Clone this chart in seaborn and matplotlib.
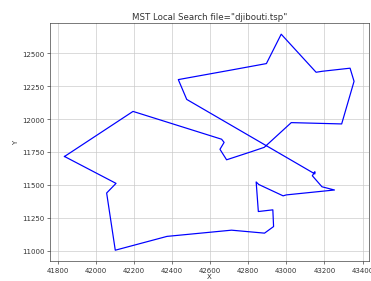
import matplotlib
matplotlib.use("Agg")
import matplotlib.pyplot as plt
import seaborn as sns
import pandas as pd

# tour visiting order (city coordinates of djibouti.tsp)
tour_x = [41836.1, 42195.6, 42660.6, 42673.6, 42651.9, 42686.7, 42814.4, 42884.4,
          43026.1, 43290.6, 43355.6, 43334.7, 43189.2, 43156.4, 42973.3, 42895.6,
          42711.4, 42433.3, 42477.5, 43150.0, 43150.0, 43148.1, 43136.7, 43187.2,
          43252.8, 43000.3, 42983.3, 42855.3, 42841.9, 42853.3, 42929.4, 42933.3,
          42885.8, 42712.5, 42373.9, 42102.5, 42057.2, 42106.4, 41836.1]
tour_y = [11715.8, 12058.3, 11846.9, 11822.8, 11770.3, 11690.6, 11751.1, 11785.3,
          11973.1, 11963.1, 12286.9, 12386.7, 12363.3, 12355.8, 12645.0, 12421.7,
          12372.8, 12300.0, 12149.4, 11583.3, 11600.0, 11595.0, 11569.4, 11485.6,
          11461.1, 11423.9, 11416.7, 11503.1, 11522.2, 11297.5, 11310.3, 11183.3,
          11133.3, 11155.8, 11108.6, 11003.6, 11438.3, 11511.4, 11715.8]

df = pd.DataFrame({"X": tour_x, "Y": tour_y})

fig = plt.figure(figsize=(6.4, 4.862), dpi=58)
ax = fig.add_axes([0.1348, 0.0709, 0.858, 0.8426])
sns.lineplot(data=df, x="X", y="Y", sort=False, estimator=None, color="blue", linewidth=1.5, ax=ax)
ax.set_xticks(range(41800, 43401, 200))
ax.set_yticks(range(11000, 12501, 250))
ax.tick_params(labelsize=8.7, colors="#333333")
for s in ax.spines.values():
    s.set_color("#333333")
ax.set_xlabel("X", fontsize=8.7, labelpad=1, color="#333333")
ax.set_ylabel("Y", fontsize=8.7, color="#333333")
ax.set_title('MST Local Search file="djibouti.tsp"', fontsize=10.7, color="#333333")
ax.grid(True, color="#c8c8c8")
fig.savefig("out.png", dpi=58)
